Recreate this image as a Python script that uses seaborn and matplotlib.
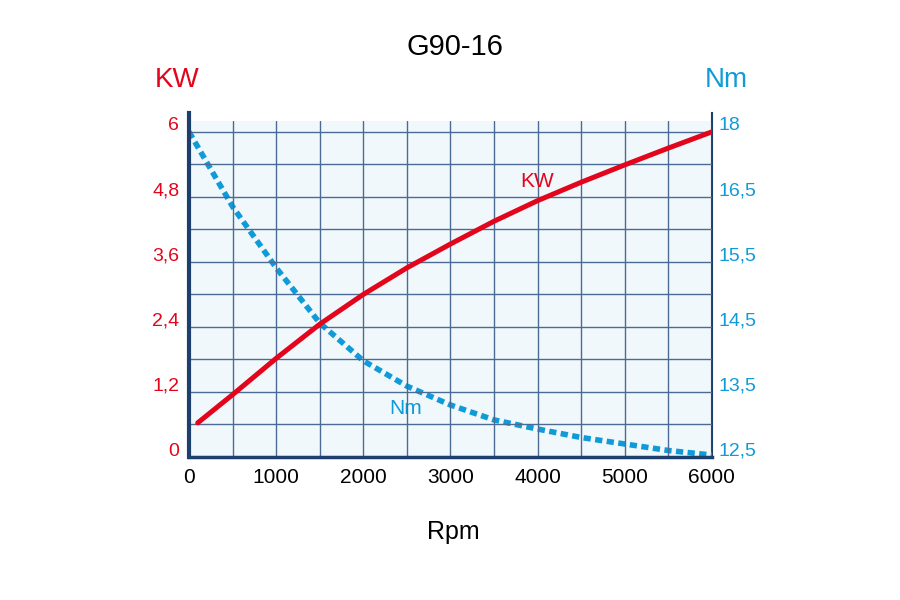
import numpy as np
import pandas as pd
import matplotlib
matplotlib.use("Agg")
import matplotlib.pyplot as plt
import seaborn as sns
from matplotlib.transforms import ScaledTranslation

# curve data
rpm_kw = [100, 500, 1000, 1500, 2000, 2500, 3000, 3500, 4000, 4500, 5000, 5500, 6000]
kw = [0.63, 1.15, 1.82, 2.45, 3.0, 3.49, 3.93, 4.35, 4.73, 5.07, 5.39, 5.70, 6.0]
rpm_nm = [0, 500, 1000, 1500, 2000, 2500, 3000, 3500, 4000, 4500, 5000, 5500, 6000]
nm = [17.5, 16.35, 15.41, 14.56, 13.98, 13.59, 13.30, 13.07, 12.93, 12.80, 12.70, 12.60, 12.53]

kw_ticks = [0, 1.2, 2.4, 3.6, 4.8, 6]
kw_labels = ["0", "1,2", "2,4", "3,6", "4,8", "6"]
nm_ticks = [12.5, 13.5, 14.5, 15.5, 16.5, 17.5]
nm_labels = ["12,5", "13,5", "14,5", "15,5", "16,5", "18"]
rpm_ticks = [0, 1000, 2000, 3000, 4000, 5000, 6000]

RED = "#e3051b"
BLUE = "#0f9ad8"
NAVY = "#1d3f6e"
GRID = "#4d6a92"

sns.set_style("white")
plt.rcParams["font.family"] = ["Liberation Sans Narrow", "Liberation Sans", "DejaVu Sans"]

df_kw = pd.DataFrame({"rpm": rpm_kw, "kw": kw})
df_nm = pd.DataFrame({"rpm": rpm_nm, "nm": nm})

fig = plt.figure(figsize=(9, 6), dpi=100)
ax = fig.add_axes([0.21, 1 - 457 / 600, 0.581, (457 - 121) / 600])
ax2 = ax.twinx()

ax.set_xlim(0, 6000)
ax.set_ylim(0, 6.2)
ax2.set_ylim(12.5, 12.5 + 6.2 / 1.2)

ax.set_xticks(rpm_ticks)
ax.set_xticks(np.arange(0, 6001, 500), minor=True)
ax.set_yticks(kw_ticks)
ax.set_yticklabels(kw_labels)
ax.set_yticks(np.arange(0, 6.01, 0.6), minor=True)
ax.grid(True, which="both", color=GRID, lw=1)
ax.set_axisbelow(True)

sns.lineplot(data=df_nm, x="rpm", y="nm", ax=ax2, color=BLUE, lw=4,
             linestyle=(0, (1.3, 0.8)), zorder=3)
sns.lineplot(data=df_kw, x="rpm", y="kw", ax=ax, color=RED, lw=3.6, zorder=4)

# ax on top so the grid sits over the light fill drawn by ax2
ax.set_zorder(ax2.get_zorder() + 1)
ax.patch.set_visible(False)
ax2.patch.set_visible(True)
ax2.patch.set_facecolor("#f0f8fc")
ax.set_xlabel("")
ax.set_ylabel("")
ax2.set_ylabel("")

ax2.set_yticks(nm_ticks)
ax2.set_yticklabels(nm_labels)

ax.tick_params(axis="y", colors=RED, labelsize=14, length=0, pad=7)
ax.tick_params(axis="x", colors="black", labelsize=15, length=0, pad=8)
ax.tick_params(axis="both", which="minor", length=0)
ax2.tick_params(axis="y", colors=BLUE, labelsize=14, length=0, pad=5)

# labels sit a little above their grid lines in the reference
off = ScaledTranslation(0, 8 / 100, fig.dpi_scale_trans)
for lab in ax.get_yticklabels() + ax2.get_yticklabels():
    lab.set_transform(lab.get_transform() + off)

for a in (ax, ax2):
    for s in a.spines.values():
        s.set_visible(False)
ax.spines["left"].set_visible(True)
ax.spines["left"].set_color(NAVY)
ax.spines["left"].set_linewidth(3)
ax.spines["left"].set_bounds(0, 6.35)
ax.spines["bottom"].set_visible(True)
ax.spines["bottom"].set_color(NAVY)
ax.spines["bottom"].set_linewidth(2.5)
ax2.spines["right"].set_visible(True)
ax2.spines["right"].set_color(NAVY)
ax2.spines["right"].set_linewidth(1.5)
ax2.spines["right"].set_bounds(12.5, 12.5 + 6.35 / 1.2)

ax.text(3990, 5.08, "KW", color=RED, fontsize=15, ha="center", va="center")
ax2.text(2480, 13.25, "Nm", color=BLUE, fontsize=15, ha="center", va="center")

fig.text(177 / 900, 1 - 80 / 600, "KW", color=RED, fontsize=20, ha="center", va="center")
fig.text(726 / 900, 1 - 80 / 600, "Nm", color=BLUE, fontsize=20, ha="center", va="center")
fig.text(455 / 900, 1 - 47 / 600, "G90-16", color="black", fontsize=21,
         ha="center", va="center")
fig.text(453 / 900, 1 - 532 / 600, "Rpm", color="black", fontsize=18, ha="center", va="center")

fig.savefig("out.png", dpi=100, facecolor="white")
